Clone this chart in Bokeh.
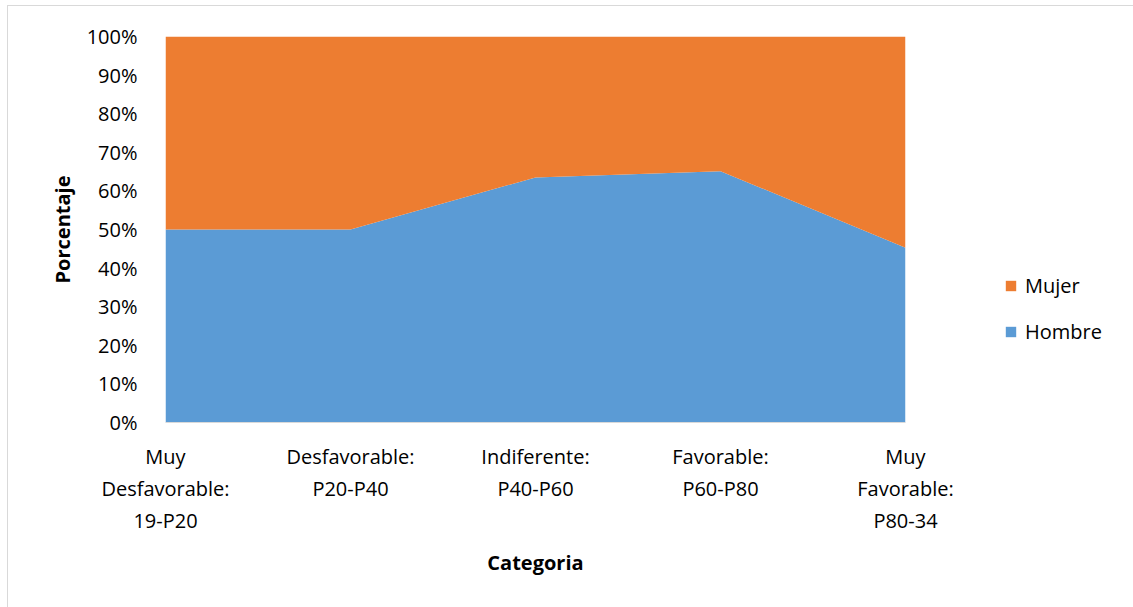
from bokeh.plotting import figure
from bokeh.models import (Range1d, FixedTicker, NumeralTickFormatter, Legend, LegendItem,
                          ColumnDataSource)
from bokeh.embed import file_html
from bokeh.resources import INLINE

categories = ["Muy\nDesfavorable:\n19-P20", "Desfavorable:\nP20-P40", "Indiferente:\nP40-P60",
              "Favorable:\nP60-P80", "Muy\nFavorable:\nP80-34"]
hombre = [0.50, 0.50, 0.635, 0.651, 0.453]
mujer = [1 - h for h in hombre]
y_ticks = [0, 0.1, 0.2, 0.3, 0.4, 0.5, 0.6, 0.7, 0.8, 0.9, 1.0]

xs = list(range(len(categories)))
src = ColumnDataSource(dict(x=xs, Hombre=hombre, Mujer=mujer))

FONT = "Open Sans"

p = figure(frame_width=740, frame_height=386, output_backend="svg", toolbar_location=None,
           x_range=Range1d(0, len(categories) - 1), y_range=Range1d(0, 1),
           min_border_left=157, min_border_right=0, min_border_top=30, min_border_bottom=186)
p.margin = (5, 0, 0, 7)
p.styles = {"border-left": "1px solid #d9d9d9", "border-top": "1px solid #d9d9d9"}

rs = p.varea_stack(stackers=["Hombre", "Mujer"], x="x", color=["#5B9BD5", "#ED7D31"], source=src)

p.outline_line_color = None
p.grid.visible = False

p.xaxis.ticker = FixedTicker(ticks=xs)
p.xaxis.major_label_overrides = {i: c for i, c in zip(xs, categories)}
p.xaxis.major_tick_line_color = None
p.xaxis.minor_tick_line_color = None
p.xaxis.axis_line_color = "#d9d9d9"
p.xaxis.major_label_text_font = FONT
p.xaxis.major_label_text_font_size = "20px"
p.xaxis.major_label_text_color = "black"
p.xaxis.major_label_text_line_height = 1.2
p.xaxis.major_label_standoff = 14
p.xaxis.axis_label = "Categoria"
p.xaxis.axis_label_text_font = FONT
p.xaxis.axis_label_text_font_style = "bold"
p.xaxis.axis_label_text_font_size = "20px"
p.xaxis.axis_label_text_color = "black"
p.xaxis.axis_label_standoff = 12

p.yaxis.ticker = FixedTicker(ticks=y_ticks)
p.yaxis.formatter = NumeralTickFormatter(format="0%")
p.yaxis.major_tick_line_color = None
p.yaxis.minor_tick_line_color = None
p.yaxis.axis_line_color = None
p.yaxis.major_label_text_font = FONT
p.yaxis.major_label_text_font_size = "20px"
p.yaxis.major_label_text_color = "black"
p.yaxis.major_label_standoff = 22
p.yaxis.axis_label = "Porcentaje"
p.yaxis.axis_label_text_font = FONT
p.yaxis.axis_label_text_font_style = "bold"
p.yaxis.axis_label_text_font_size = "20px"
p.yaxis.axis_label_text_color = "black"
p.yaxis.axis_label_standoff = 8

legend = Legend(items=[LegendItem(label="Mujer", renderers=[rs[1]]),
                       LegendItem(label="Hombre", renderers=[rs[0]])],
                location=(99, 77), orientation="vertical")
legend.border_line_color = None
legend.background_fill_alpha = 0
legend.padding = 0
legend.margin = 0
legend.glyph_width = 13
legend.glyph_height = 13
legend.label_text_font = FONT
legend.label_text_font_size = "20px"
legend.label_text_color = "black"
legend.label_standoff = 8
legend.spacing = 19
p.add_layout(legend, "right")

open("out.html", "w").write(file_html(p, INLINE))
